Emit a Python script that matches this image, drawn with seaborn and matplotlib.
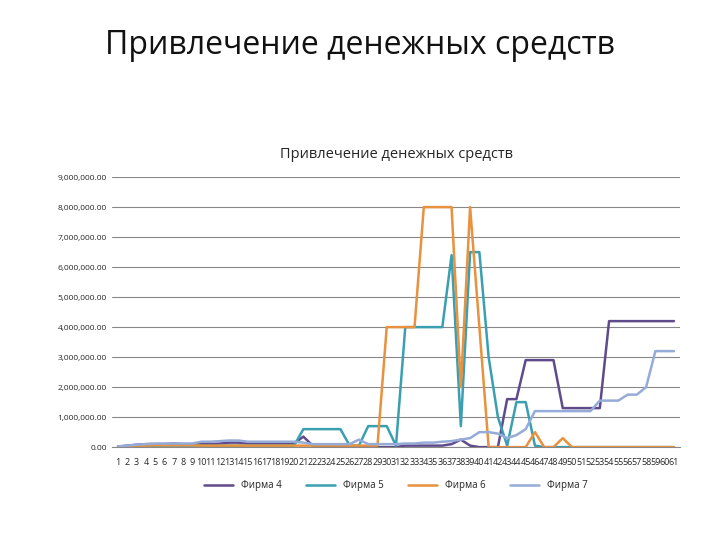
import matplotlib
matplotlib.use('Agg')
import matplotlib.pyplot as plt
import seaborn as sns
import pandas as pd
from matplotlib.ticker import FuncFormatter

periods = list(range(1, 62))

firma4 = [0.02, 0.05, 0.08, 0.1, 0.1, 0.1, 0.12, 0.1, 0.1, 0.1, 0.1, 0.12, 0.15, 0.15, 0.12, 0.12, 0.12, 0.12, 0.12, 0.12,
          0.35, 0.05, 0, 0, 0, 0, 0, 0, 0, 0, 0, 0.05, 0.05, 0.05, 0.05, 0.05, 0.1, 0.25, 0.05, 0,
          0, 0, 1.6, 1.6, 2.9, 2.9, 2.9, 2.9, 1.3, 1.3, 1.3, 1.3, 1.3, 4.2, 4.2, 4.2, 4.2, 4.2, 4.2, 4.2, 4.2]
firma5 = [0.02, 0.02, 0.03, 0.03, 0.05, 0.05, 0.05, 0.05, 0.05, 0.05, 0.05, 0.05, 0.05, 0.05, 0.05, 0.05, 0.05, 0.05, 0.05, 0.05,
          0.6, 0.6, 0.6, 0.6, 0.6, 0.05, 0.05, 0.7, 0.7, 0.7, 0.05, 4.0, 4.0, 4.0, 4.0, 4.0, 6.4, 0.7, 6.5, 6.5,
          3.0, 1.0, 0.05, 1.5, 1.5, 0.05, 0, 0, 0, 0, 0, 0, 0, 0, 0, 0, 0, 0, 0, 0, 0]
firma6 = [0.02, 0.03, 0.05, 0.05, 0.06, 0.06, 0.06, 0.06, 0.06, 0.05, 0.05, 0.05, 0.05, 0.05, 0.05, 0.05, 0.05, 0.05, 0.05, 0.05,
          0.05, 0.05, 0.05, 0.05, 0.05, 0.05, 0.05, 0.05, 0.05, 4.0, 4.0, 4.0, 4.0, 8.0, 8.0, 8.0, 8.0, 2.0, 8.0, 4.0,
          0, 0, 0, 0, 0, 0.5, 0, 0, 0.3, 0, 0, 0, 0, 0, 0, 0, 0, 0, 0, 0, 0]
firma7 = [0.02, 0.05, 0.08, 0.1, 0.12, 0.12, 0.12, 0.12, 0.12, 0.18, 0.18, 0.2, 0.22, 0.22, 0.18, 0.18, 0.18, 0.18, 0.18, 0.18,
          0.15, 0.1, 0.1, 0.1, 0.1, 0.1, 0.25, 0.1, 0.1, 0.1, 0.1, 0.12, 0.12, 0.15, 0.15, 0.18, 0.2, 0.25, 0.3, 0.5,
          0.5, 0.45, 0.3, 0.4, 0.6, 1.2, 1.2, 1.2, 1.2, 1.2, 1.2, 1.2, 1.55, 1.55, 1.55, 1.75, 1.75, 2.0, 3.2, 3.2, 3.2]

names = ['Фирма 4', 'Фирма 5', 'Фирма 6', 'Фирма 7']
colors = ['#5f4b8b', '#3a9fb0', '#e8913e', '#95abd8']

df = pd.DataFrame({'period': periods * 4,
                   'value': [v * 1e6 for v in firma4 + firma5 + firma6 + firma7],
                   'series': sum([[n] * 61 for n in names], [])})

sns.set_style('white')
plt.rcParams['font.family'] = ['Open Sans', 'DejaVu Sans']

fig = plt.figure(figsize=(7.2, 5.4), dpi=100)
fig.text(0.5, 0.9, 'Привлечение денежных средств', ha='center', fontsize=23, color='#111111')
ax = fig.add_axes([0.155, 0.172, 0.79, 0.5])
sns.lineplot(data=df, x='period', y='value', hue='series', palette=colors, linewidth=1.8, ax=ax, legend=True)

ax.set_title('Привлечение денежных средств', fontsize=10.5, pad=14)
ax.set_ylim(0, 9e6)
ax.set_yticks([i * 1e6 for i in range(10)])
ax.yaxis.set_major_formatter(FuncFormatter(lambda v, p: f'{v:,.2f}'))
ax.set_xlim(0.3, 61.7)
ax.set_xticks(periods)
ax.set_xticklabels([str(p) for p in periods], fontsize=6.5)
ax.tick_params(axis='y', labelsize=6, length=0)
ax.tick_params(axis='x', length=0, pad=8)
ax.grid(axis='y', color='#888888', linewidth=0.8)
ax.set_xlabel('')
ax.set_ylabel('')
for s in ['top', 'right', 'left']:
    ax.spines[s].set_visible(False)
ax.spines['bottom'].set_color('#888888')
ax.legend(loc='upper center', bbox_to_anchor=(0.5, -0.09), ncol=4, frameon=False, fontsize=7,
          handlelength=3, columnspacing=2.5)

fig.savefig('out.png', dpi=100)
